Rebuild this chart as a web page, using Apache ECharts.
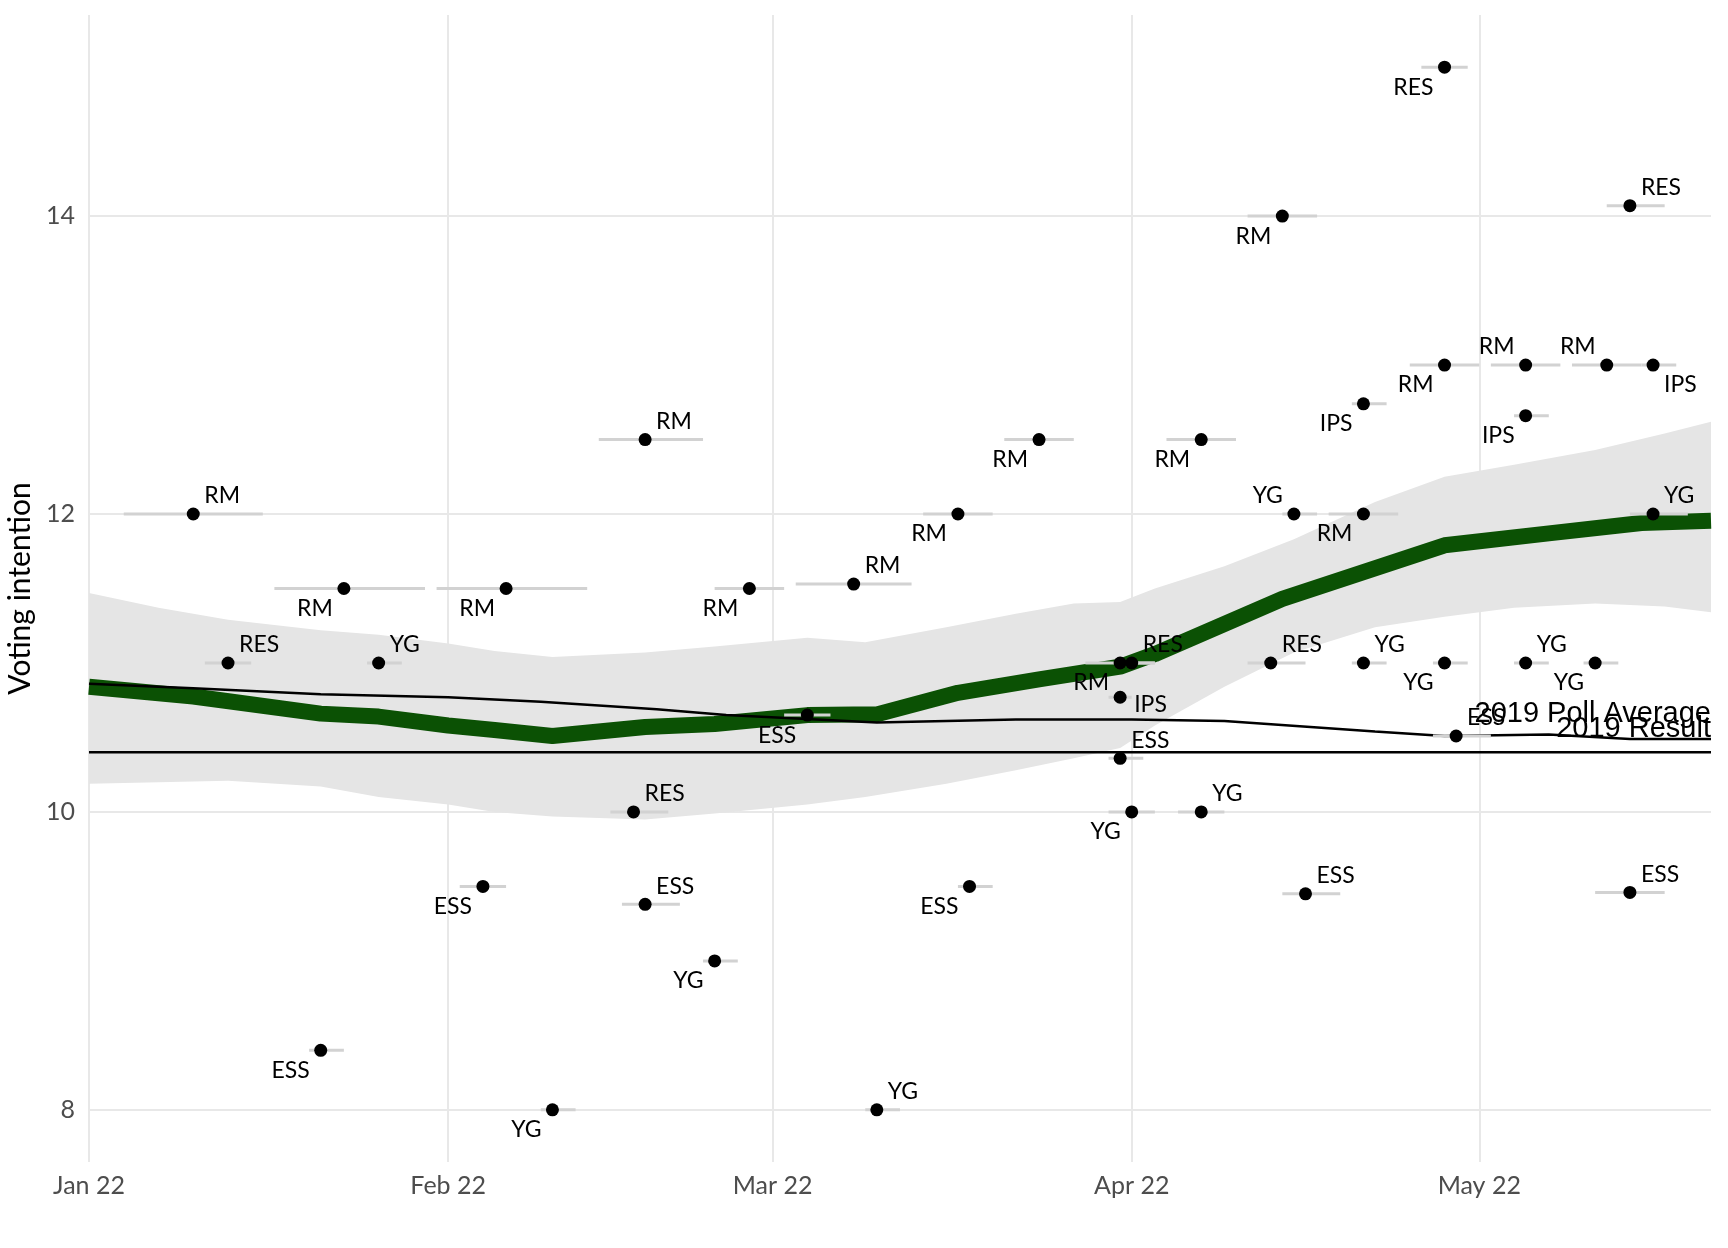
<!DOCTYPE html>
<html><head><meta charset="utf-8">
<script src="https://cdn.jsdelivr.net/npm/echarts@6/dist/echarts.min.js"></script>
<style>html,body{margin:0;padding:0;background:#fff}#c{width:1728px;height:1248px}</style>
</head><body><div id="c"></div>
<script>
// ---- data ----
const xRange = ['2022-01-01', '2022-05-21'];
const monthTicks = ['2022-01-01','2022-02-01','2022-03-01','2022-04-01','2022-05-01'];
const monthTickLabels = ['Jan 22','Feb 22','Mar 22','Apr 22','May 22'];
const yTicks = [8, 10, 12, 14];

const pollsters = ['RM','RES','ESS','RM','YG','ESS','RM','YG','RES','RM','ESS','YG','RM','ESS','RM','YG','RM','ESS','RM','RM','RES','IPS','ESS','YG','YG','RM','RM','RES','YG','ESS','RM','IPS','YG','RES','RM','YG','ESS','RM','IPS','YG','YG','RM','RES','ESS','IPS','YG'];
const pollMid = ['2022-01-10','2022-01-13','2022-01-21','2022-01-23','2022-01-26','2022-02-04','2022-02-06','2022-02-10','2022-02-17','2022-02-18','2022-02-18','2022-02-24','2022-02-27','2022-03-04','2022-03-08','2022-03-10','2022-03-17','2022-03-18','2022-03-24','2022-03-31','2022-04-01','2022-03-31','2022-03-31','2022-04-01','2022-04-07','2022-04-07','2022-04-14','2022-04-13','2022-04-15','2022-04-16','2022-04-21','2022-04-21','2022-04-21','2022-04-28','2022-04-28','2022-04-28','2022-04-29','2022-05-05','2022-05-05','2022-05-05','2022-05-11','2022-05-12','2022-05-14','2022-05-14','2022-05-16','2022-05-16'];
const pollStart = ['2022-01-04','2022-01-11','2022-01-20','2022-01-17','2022-01-25','2022-02-02','2022-01-31','2022-02-09','2022-02-15','2022-02-14','2022-02-16','2022-02-23','2022-02-24','2022-03-02','2022-03-03','2022-03-09','2022-03-14','2022-03-17','2022-03-21','2022-03-28','2022-03-31','2022-03-30','2022-03-30','2022-03-30','2022-04-05','2022-04-04','2022-04-11','2022-04-11','2022-04-14','2022-04-14','2022-04-18','2022-04-20','2022-04-20','2022-04-26','2022-04-25','2022-04-27','2022-04-27','2022-05-02','2022-05-04','2022-05-04','2022-05-10','2022-05-09','2022-05-12','2022-05-11','2022-05-15','2022-05-14'];
const pollEnd = ['2022-01-16','2022-01-15','2022-01-23','2022-01-30','2022-01-28','2022-02-06','2022-02-13','2022-02-12','2022-02-20','2022-02-23','2022-02-21','2022-02-26','2022-03-02','2022-03-06','2022-03-13','2022-03-12','2022-03-20','2022-03-20','2022-03-27','2022-04-03','2022-04-03','2022-04-01','2022-04-02','2022-04-03','2022-04-09','2022-04-10','2022-04-17','2022-04-16','2022-04-17','2022-04-19','2022-04-24','2022-04-23','2022-04-23','2022-04-30','2022-05-01','2022-04-30','2022-05-02','2022-05-08','2022-05-07','2022-05-07','2022-05-13','2022-05-15','2022-05-17','2022-05-17','2022-05-18','2022-05-19'];
const pollValue = [12.0,11.0,8.4,11.5,11.0,9.5,11.5,8.0,10.0,12.5,9.38,9.0,11.5,10.65,11.53,8.0,12.0,9.5,12.5,11.0,11.0,10.77,10.36,10.0,10.0,12.5,14.0,11.0,12.0,9.45,12.0,12.74,11.0,15.0,13.0,11.0,10.51,13.0,12.66,11.0,11.0,13.0,14.07,9.46,13.0,12.0];

const trendDates = ['2022-01-01','2022-01-10','2022-01-21','2022-01-26','2022-02-01','2022-02-05','2022-02-10','2022-02-18','2022-02-24','2022-03-04','2022-03-10','2022-03-17','2022-03-24','2022-03-31','2022-04-03','2022-04-14','2022-04-28','2022-05-07','2022-05-15','2022-05-21'];
const trendValues = [10.84,10.775,10.66,10.64,10.58,10.55,10.51,10.57,10.59,10.65,10.655,10.80,10.89,10.975,11.06,11.43,11.79,11.87,11.94,11.955];

const bandDates = ['2022-01-01','2022-01-07','2022-01-13','2022-01-21','2022-01-26','2022-02-01','2022-02-05','2022-02-10','2022-02-18','2022-02-24','2022-03-04','2022-03-09','2022-03-16','2022-03-22','2022-03-27','2022-03-31','2022-04-03','2022-04-09','2022-04-15','2022-04-22','2022-04-28','2022-05-04','2022-05-11','2022-05-17','2022-05-21'];
const bandUpper = [11.47,11.37,11.29,11.22,11.19,11.13,11.08,11.04,11.07,11.11,11.17,11.14,11.24,11.33,11.40,11.41,11.50,11.65,11.83,12.08,12.25,12.33,12.43,12.54,12.62];
const bandLower = [10.19,10.20,10.21,10.17,10.10,10.05,10.00,9.97,9.95,9.99,10.05,10.10,10.19,10.28,10.36,10.43,10.58,10.84,11.07,11.24,11.31,11.37,11.40,11.38,11.34];

const avgDates = ['2022-01-01','2022-01-10','2022-01-21','2022-02-01','2022-02-09','2022-02-19','2022-02-25','2022-03-10','2022-03-22','2022-04-01','2022-04-09','2022-04-22','2022-04-28','2022-05-07','2022-05-14','2022-05-21'];
const avgValues = [10.86,10.83,10.79,10.77,10.74,10.69,10.65,10.60,10.62,10.62,10.61,10.54,10.51,10.52,10.49,10.49];

const result2019 = 10.4;
const lineNames = ['2019 Poll Average', '2019 Result'];

// ---- layout (label placement per poll) ----
const labelSide = ['tr','tr','bl','bl','tr','bl','bl','bl','tr','tr','tr','bl','bl','bl','tr','tr','bl','bl','bl','bl','tr','r','tr','bl','tr','bl','bl','tr','tl','tr','bl','bl','tr','bl','bl','bl','tr','tl','bl','tr','bl','tl','tr','tr','br','tr'];

// dates -> days since start of x range (value axis)
const utc = s => { const [y, m, d] = s.split('-').map(Number); return Date.UTC(y, m - 1, d); };
const day = s => Math.round((utc(s) - utc(xRange[0])) / 864e5);
const sideStyle = {
  tr: { align: 'left',  offset: [11, -18] },
  tl: { align: 'right', offset: [-11, -18] },
  bl: { align: 'right', offset: [-11, 20] },
  br: { align: 'left',  offset: [11, 20] },
  r:  { align: 'left',  offset: [14, 7] }
};
const FONT = 'Lato';

const chart = echarts.init(document.getElementById('c'), null, { renderer: 'canvas' });
const monthDays = monthTicks.map(day);

chart.setOption({
  backgroundColor: '#ffffff',
  animation: false,
  grid: { left: 89, right: 17, top: 15, bottom: 86, containLabel: false, outerBoundsMode: 'none' },
  xAxis: {
    type: 'value', min: day(xRange[0]), max: day(xRange[1]),
    axisLine: { show: false },
    axisTick: { show: false, customValues: monthDays },
    axisLabel: {
      customValues: monthDays,
      formatter: v => { const i = monthDays.indexOf(Math.round(v)); return i >= 0 ? monthTickLabels[i] : ''; },
      color: '#4d4d4d', fontSize: 25, fontFamily: FONT, margin: 11
    },
    splitLine: { show: true, lineStyle: { color: '#e8e8e8', width: 2 } }
  },
  yAxis: {
    type: 'value', min: 7.65, max: 15.35,
    name: 'Voting intention', nameLocation: 'middle', nameGap: 46,
    nameTextStyle: { fontSize: 30, fontFamily: FONT, color: '#000' },
    axisLine: { show: false },
    axisTick: { show: false, customValues: yTicks },
    axisLabel: { customValues: yTicks, color: '#4d4d4d', fontSize: 25, fontFamily: FONT, margin: 14 },
    splitLine: { show: true, lineStyle: { color: '#e8e8e8', width: 2 } }
  },
  series: [
    {
      type: 'custom', z: 1, silent: true,
      renderItem: (params, api) => {
        const pts = [];
        for (let i = 0; i < bandDates.length; i++) pts.push(api.coord([day(bandDates[i]), bandUpper[i]]));
        for (let i = bandDates.length - 1; i >= 0; i--) pts.push(api.coord([day(bandDates[i]), bandLower[i]]));
        return { type: 'polygon', shape: { points: pts }, style: { fill: '#e5e5e5' } };
      },
      encode: { x: 0, y: 1 },
      data: [[day(bandDates[0]), bandLower[0]]]
    },
    {
      type: 'line', z: 2, symbol: 'none', silent: true,
      lineStyle: { color: '#0b5104', width: 16 },
      data: trendDates.map((d, i) => [day(d), trendValues[i]])
    },
    {
      type: 'line', z: 3, symbol: 'none', silent: true,
      lineStyle: { color: '#000', width: 2.5 },
      data: avgDates.map((d, i) => [day(d), avgValues[i]])
    },
    {
      type: 'line', z: 3, symbol: 'none', silent: true,
      lineStyle: { color: '#000', width: 2.5 },
      data: [[day(xRange[0]), result2019], [day(xRange[1]), result2019]]
    },
    {
      type: 'custom', z: 4, silent: true,
      renderItem: (params, api) => {
        const p1 = api.coord([api.value(0), api.value(2)]);
        const p2 = api.coord([api.value(1), api.value(2)]);
        return { type: 'line', shape: { x1: p1[0], y1: p1[1], x2: p2[0], y2: p2[1] }, style: { stroke: '#d2d2d2', lineWidth: 3 } };
      },
      encode: { x: [0, 1], y: 2 },
      data: pollStart.map((s, i) => [day(s), day(pollEnd[i]), pollValue[i]])
    },
    {
      type: 'scatter', z: 5, symbolSize: 13, silent: true,
      itemStyle: { color: '#000', opacity: 1 },
      label: { show: true, position: 'inside', verticalAlign: 'middle', fontSize: 23, fontFamily: FONT, color: '#000',
               formatter: p => p.value[2] },
      data: pollMid.map((d, i) => ({ value: [day(d), pollValue[i], pollsters[i]], label: sideStyle[labelSide[i]] }))
    },
    {
      type: 'scatter', z: 6, symbolSize: 1, silent: true,
      itemStyle: { color: 'transparent', opacity: 1 },
      label: { show: true, position: 'inside', align: 'right', verticalAlign: 'bottom', fontSize: 29,
               fontFamily: 'Liberation Sans', color: '#000', formatter: p => p.value[2] },
      data: [
        { value: [day(avgDates[avgDates.length - 1]), avgValues[avgValues.length - 1], lineNames[0]], label: { offset: [0, -10] } },
        { value: [day(xRange[1]), result2019, lineNames[1]], label: { offset: [0, -9] } }
      ]
    }
  ]
});
</script></body></html>
